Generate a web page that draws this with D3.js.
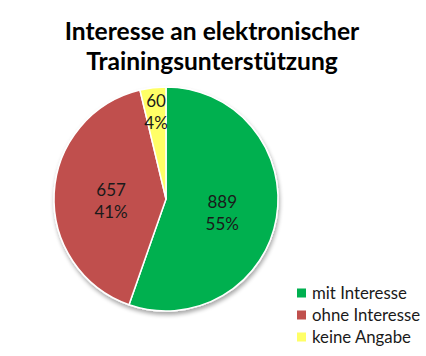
<!DOCTYPE html>
<html><head><meta charset="utf-8">
<script src="https://cdn.jsdelivr.net/npm/d3@7"></script>
<style>
html,body{margin:0;padding:0;background:#fff;}
svg{display:block;font-family:Lato,"Open Sans",sans-serif;}
</style></head>
<body>
<svg id="chart" width="426" height="356"></svg>
<script>
const titleLines = ["Interesse an elektronischer", "Trainingsunterstützung"];
const categories = ["mit Interesse", "ohne Interesse", "keine Angabe"];
const values = [889, 657, 60];
const percentLabels = ["55%", "41%", "4%"];
const colors = ["#00B050", "#C0504D", "#FFFF66"];

const svg = d3.select("#chart");
const cx = 166, cy = 199, R = 112;

// title
svg.append("g").selectAll("text").data(titleLines).join("text")
  .attr("x", 212).attr("y", (d,i) => 40 + i*30)
  .attr("text-anchor", "middle")
  .attr("font-weight", "bold")
  .attr("font-size", 24.6)
  .attr("fill", "#000")
  .text(d => d);

// shadow filter
const defs = svg.append("defs");
const f = defs.append("filter").attr("id","sh").attr("x","-20%").attr("y","-20%").attr("width","140%").attr("height","140%");
f.append("feGaussianBlur").attr("in","SourceAlpha").attr("stdDeviation",2.2);
f.append("feOffset").attr("dx",1).attr("dy",3).attr("result","ob");
f.append("feComponentTransfer").append("feFuncA").attr("type","linear").attr("slope",0.35);
const m = f.append("feMerge"); m.append("feMergeNode"); m.append("feMergeNode").attr("in","SourceGraphic");

const data = categories.map((c,i) => ({cat:c, value:values[i], pct:percentLabels[i], color:colors[i]}));
const pie = d3.pie().value(d => d.value).sort(null);
const arcs = pie(data);
const arc = d3.arc().innerRadius(0).outerRadius(R);

const g = svg.append("g").attr("transform", `translate(${cx},${cy})`);
g.append("g").attr("filter","url(#sh)")
  .selectAll("path").data(arcs).join("path")
  .attr("d", arc)
  .attr("fill", d => d.data.color)
  .attr("stroke", "#fff")
  .attr("stroke-width", 1.5)
  .attr("stroke-linejoin","round");

const labelPos = d => {
  const frac = (d.endAngle - d.startAngle) / (2*Math.PI);
  const r = frac < 0.1 ? R*0.83 : R*0.5;
  return d3.arc().innerRadius(r).outerRadius(r).centroid(d);
};
const lg = g.selectAll("g.lbl").data(arcs).join("g").attr("class","lbl")
  .attr("transform", d => { const [x,y] = labelPos(d); return `translate(${x+1},${y})`; });
lg.append("text").attr("text-anchor","middle").attr("y",0)
  .attr("font-size",17).attr("fill","#1a1a1a").text(d => d.data.value);
lg.append("text").attr("text-anchor","middle").attr("y",22)
  .attr("font-size",17).attr("fill","#1a1a1a").text(d => d.data.pct);

// legend
const leg = svg.append("g").attr("transform","translate(297,293)");
const li = leg.selectAll("g").data(data).join("g").attr("transform",(d,i)=>`translate(0,${i*22})`);
li.append("rect").attr("x",0).attr("y",-4.5).attr("width",9).attr("height",9).attr("fill",d=>d.color);
li.append("text").attr("x",15).attr("y",5.5).attr("font-size",16.8).attr("fill","#1a1a1a").text(d=>d.cat);
</script>
</body></html>
